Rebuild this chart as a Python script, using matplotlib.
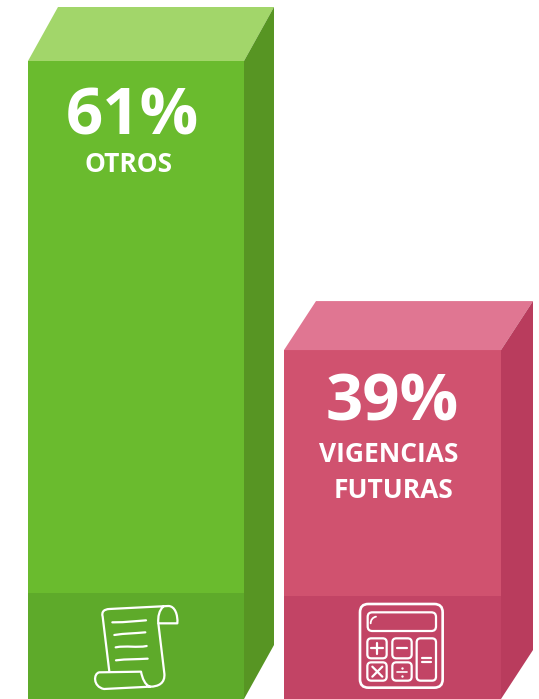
"""Two 3D-look bars: OTROS vs VIGENCIAS FUTURAS."""

import matplotlib

matplotlib.use("Agg")
import matplotlib.pyplot as plt
import numpy as np
from matplotlib.patches import FancyBboxPatch, PathPatch, Polygon
from matplotlib.path import Path

labels = ["OTROS", "VIGENCIAS\nFUTURAS"]
values = [61, 39]
value_labels = ["61%", "39%"]

front_colors = ["#6abb2e", "#d0526f"]
top_colors = ["#a2d66a", "#e07692"]
side_colors = ["#579523", "#b93c5d"]
band_colors = ["#5eaa2a", "#c24465"]

W, H = 539, 699
plt.rcParams["font.family"] = ["Open Sans", "DejaVu Sans"]

fig = plt.figure(figsize=(W / 100, H / 100), dpi=100)
fig.patch.set_facecolor("white")

# value axis: 13.14 px per percent point, bottom of the picture is the box floor
ax = fig.add_axes([0, 0, 1, 1])
px_per_val = 13.14
v_top = 61 + 61 / px_per_val
v_bottom = v_top - H / px_per_val
ax.set_xlim(0, W)
ax.set_ylim(v_bottom, v_top)
ax.axis("off")

lefts = [28, 284]
widths = [216, 217]
depth_x = [30, 32]
depth_y = [54 / px_per_val, 49 / px_per_val]
band_h = [106 / px_per_val, 103 / px_per_val]

for i, v in enumerate(values):
    x0, x1 = lefts[i], lefts[i] + widths[i]
    dx, dy = depth_x[i], depth_y[i]
    ax.bar(x0, v - v_bottom, width=widths[i], bottom=v_bottom, align="edge",
           color=front_colors[i], linewidth=0)
    ax.bar(x0, band_h[i], width=widths[i], bottom=v_bottom, align="edge",
           color=band_colors[i], linewidth=0)
    ax.add_patch(Polygon([(x0, v), (x0 + dx, v + dy), (x1 + dx, v + dy), (x1, v)],
                         closed=True, fc=top_colors[i], lw=0))
    ax.add_patch(Polygon([(x1, v), (x1 + dx, v + dy), (x1 + dx, v_bottom + dy),
                          (x1, v_bottom)], closed=True, fc=side_colors[i], lw=0))

# overlay in pixel coordinates for text and icons
ov = fig.add_axes([0, 0, 1, 1])
ov.set_xlim(0, W)
ov.set_ylim(H, 0)
ov.axis("off")
ov.patch.set_alpha(0)

ov.text(132, 118, value_labels[0], color="white", fontsize=47, fontweight="bold",
        ha="center", va="center")
ov.text(129, 165, labels[0], color="white", fontsize=19, fontweight="bold",
        ha="center", va="center")
ov.text(392, 404, value_labels[1], color="white", fontsize=47, fontweight="bold",
        ha="center", va="center")
line1, line2 = labels[1].split("\n")
ov.text(389, 454, line1, color="white", fontsize=19, fontweight="bold",
        ha="center", va="center")
ov.text(393, 490, line2, color="white", fontsize=19, fontweight="bold",
        ha="center", va="center")


def zpt(p, org):
    return (org[0] + p[0] / 3, org[1] + p[1] / 3)


def curve(org, start, *segs, lw=1.6):
    verts = [zpt(start, org)]
    codes = [Path.MOVETO]
    for s in segs:
        if len(s) == 1:
            verts.append(zpt(s[0], org))
            codes.append(Path.LINETO)
        else:
            verts += [zpt(s[0], org), zpt(s[1], org), zpt(s[2], org)]
            codes += [Path.CURVE4] * 3
    ov.add_patch(PathPatch(Path(verts, codes), fc="none", ec="white", lw=lw,
                           capstyle="round", joinstyle="round"))


def rbox(org, x0, y0, x1, y1, r, lw=1.6):
    a, b = zpt((x0 + r, y0 + r), org), zpt((x1 - r, y1 - r), org)
    ov.add_patch(FancyBboxPatch(a, b[0] - a[0], b[1] - a[1],
                                boxstyle=f"round,pad={r / 3},rounding_size={r / 3}",
                                fc="none", ec="white", lw=lw))


# scroll
org = (80, 590)
curve(org, (88, 245), [(68, 80)], [(64, 65), (72, 58), (88, 57)], [(265, 48)],
      [(285, 48), (294, 75), (292, 100)], [(235, 100)],
      [(233, 80), (238, 60), (250, 50)])
curve(org, (235, 100), [(253, 250)], [(256, 280), (235, 290), (210, 290)],
      [(195, 285), (187, 265), (183, 245)], [(58, 247)],
      [(40, 250), (38, 290), (72, 297)], [(210, 290)])
curve(org, (97, 97), [(140, 97), (170, 93), (198, 91)])
curve(org, (103, 135), [(135, 130), (165, 130), (196, 127)])
curve(org, (107, 172), [(140, 166), (170, 174), (200, 168)])
curve(org, (108, 211), [(140, 207), (170, 208), (203, 206)])

# calculator
org = (340, 590)
rbox(org, 60, 42, 308, 293, 25, lw=1.9)
rbox(org, 83, 67, 288, 123, 14)
curve(org, (92, 100), [(92, 90), (98, 82), (108, 80)], lw=1.3)
rbox(org, 82, 145, 140, 205, 12)
rbox(org, 157, 145, 215, 205, 12)
rbox(org, 82, 217, 140, 272, 12)
rbox(org, 157, 217, 215, 272, 12)
rbox(org, 230, 145, 288, 272, 12)
curve(org, (94, 175), [(128, 175)])
curve(org, (111, 158), [(111, 192)])
curve(org, (170, 175), [(202, 175)])
curve(org, (97, 230), [(127, 260)])
curve(org, (127, 230), [(97, 260)])
curve(org, (170, 245), [(202, 245)], lw=1.2)
ov.scatter([340 + 186 / 3] * 2, [590 + 233 / 3, 590 + 257 / 3], s=3, c="white", lw=0)
curve(org, (245, 204), [(273, 204)])
curve(org, (245, 215), [(273, 215)])

fig.savefig("out.png", dpi=100)
plt.close()
